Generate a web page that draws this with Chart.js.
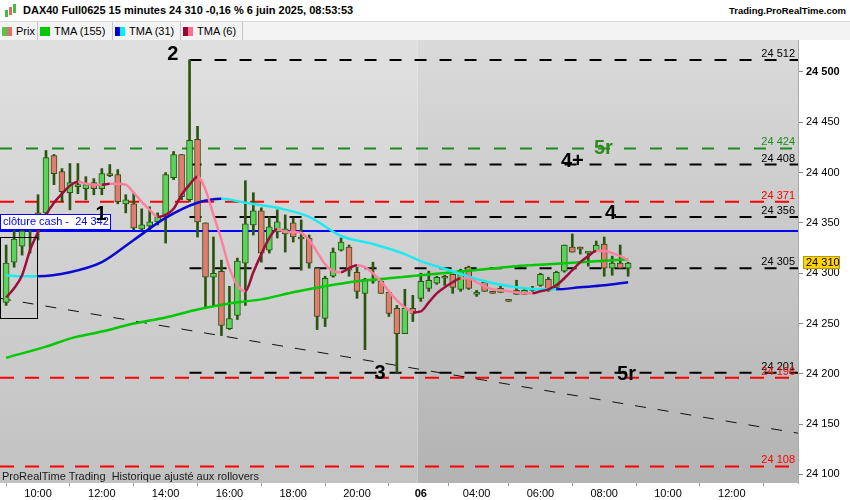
<!DOCTYPE html>
<html>
<head>
<meta charset="utf-8">
<script src="https://cdn.jsdelivr.net/npm/chart.js@4.4.1/dist/chart.umd.min.js"></script>
<style>
body { margin: 0; background: #fff; font-family: "Liberation Sans", Arial, sans-serif; }
#wrap { position: relative; width: 850px; height: 500px; overflow: hidden; }
#title { position: absolute; left: 23px; top: 4px; font-weight: bold; font-size: 11px; color: #000; }
#site { position: absolute; right: 4px; top: 5px; font-weight: bold; font-size: 9.5px; color: #000; }
#icon { position: absolute; left: 4px; top: 3px; width: 14px; height: 16px; }
#icon span { position: absolute; width: 3px; }
#legend { position: absolute; left: 0; top: 21px; width: 850px; height: 18px; background: #f3f3f3; border-top: 1px solid #d8d8d8; display: flex; }
.item { display: flex; align-items: center; border-right: 1px solid #c6c6c6; padding: 0 0 0 2px; font-size: 11px; height: 18px; box-sizing: border-box; }
.sw { width: 10px; height: 9px; margin-right: 4px; display: flex; }
.sw span { flex: 1; }
canvas { position: absolute; left: 0; top: 40px; }
#foot { position: absolute; left: 2px; top: 470px; font-size: 11px; color: #1a1a1a; }
</style>
</head>
<body>
<div id="wrap">
  <div id="icon">
    <span style="left:1px;top:7px;height:7px;background:#3fbf3f"></span>
    <span style="left:5px;top:4px;height:8px;background:#e06a60"></span>
    <span style="left:9px;top:1px;height:9px;background:#3fbf3f"></span>
  </div>
  <div id="title">DAX40 Full0625 15 minutes 24 310 -0,16 % 6 juin 2025, 08:53:53</div>
  <div id="site">Trading.ProRealTime.com</div>
  <div id="legend">
    <div class="item" style="width:38px"><div class="sw"><span style="background:#4ec94e"></span><span style="background:#e0706a"></span></div>Prix</div>
    <div class="item" style="width:75px"><div class="sw"><span style="background:#00c800"></span></div>TMA (155)</div>
    <div class="item" style="width:68px"><div class="sw"><span style="background:#0000d0"></span><span style="background:#00f0ff"></span></div>TMA (31)</div>
    <div class="item" style="width:62px"><div class="sw"><span style="background:#990033"></span><span style="background:#ff6f95"></span></div>TMA (6)</div>
  </div>
  <canvas id="chart" width="850" height="460"></canvas>
  <div id="foot">ProRealTime Trading&nbsp; Historique ajusté aux rollovers</div>
</div>
<script>
// axe du temps : une bougie de 15 minutes par index
const tickIdx = [4, 12, 20, 28, 36, 44, 52, 59, 67, 75, 83, 91];
const tickText = ['10:00', '12:00', '14:00', '16:00', '18:00', '20:00', '06', '04:00', '06:00', '08:00', '10:00', '12:00'];
const dayStartIdx = 52;

// bougies (index 0 = 5 juin 09:00, index 78 = 6 juin 08:45)
const openP  = [24271,24311,24327,24348,24360,24360,24417,24401,24380,24386,24384,24390,24384,24399,24398,24369,24369,24344,24347,24351,
                24356,24395,24418,24373,24433,24350,24296,24302,24245,24258,24310,24348,24362,24323,24341,24339,24350,24336,24335,24305,
                24255,24297,24323,24326,24301,24280,24292,24292,24281,24265,24240,24265,24275,24285,24290,24297,24299,24284,24306,24279,
                24291,24281,24281,24273,24283,24279,24283,24288,24294,24286,24302,24326,24326,24320,24322,24329,24305,24310,24305];
const highP  = [24328,24346,24345,24358,24378,24422,24418,24404,24409,24409,24396,24394,24404,24408,24403,24378,24380,24364,24366,24360,
                24400,24421,24418,24512,24446,24350,24336,24313,24287,24315,24392,24380,24365,24356,24363,24358,24355,24353,24338,24305,
                24297,24325,24335,24328,24306,24295,24311,24295,24281,24268,24284,24278,24300,24302,24297,24298,24299,24304,24307,24283,
                24293,24282,24287,24274,24293,24284,24287,24300,24296,24302,24328,24339,24326,24321,24332,24336,24317,24328,24311];
const lowP   = [24268,24306,24318,24320,24333,24358,24388,24371,24363,24379,24373,24378,24378,24396,24369,24360,24343,24343,24343,24348,
                24330,24393,24373,24371,24336,24265,24267,24238,24244,24254,24268,24338,24311,24320,24335,24321,24331,24303,24305,24244,
                24247,24296,24322,24297,24275,24224,24290,24280,24257,24201,24240,24252,24272,24282,24289,24288,24280,24282,24284,24277,
                24282,24280,24281,24272,24279,24279,24282,24287,24282,24284,24301,24321,24319,24307,24322,24297,24298,24305,24297];
const closeP = [24310,24334,24342,24357,24356,24415,24399,24381,24390,24387,24388,24384,24399,24397,24371,24373,24345,24348,24351,24356,
                24398,24418,24376,24432,24351,24296,24300,24248,24255,24312,24349,24362,24320,24346,24351,24344,24336,24334,24310,24257,
                24295,24321,24331,24303,24282,24294,24294,24280,24260,24240,24265,24260,24292,24293,24296,24295,24286,24303,24285,24281,
                24282,24280,24285,24272,24279,24283,24285,24299,24283,24301,24328,24321,24324,24321,24328,24305,24310,24305,24310];

// moyennes mobiles triangulaires
const tma155Idx = [0, 5, 8, 12, 16, 20, 24, 28, 32, 36, 40, 44, 48, 52, 56, 60, 64, 68, 72, 76, 78];
const tma155Val = [24216,24227,24235,24242,24250,24256,24264,24270,24274,24281,24287,24292,24295,24298,24301,24304,24307,24309,24311,24313,24314];
const tma31Idx = [0, 2, 4, 8, 12, 16, 20, 24, 27, 30, 34, 38, 42, 46, 50, 52, 56, 60, 64, 67, 69, 72, 75, 78];
const tma31Val = [24298,24297,24297,24301,24311,24333,24355,24370,24374,24370,24365,24356,24337,24329,24319,24312,24302,24292,24286,24284,24284,24286,24288,24291];
const tma6Val = [24276,24285,24298,24323,24341,24358,24370,24379,24387,24391,24389,24388,24388,24389,24389,24388,24380,24371,24363,24356,
                 24358,24364,24378,24388,24396,24383,24358,24333,24305,24288,24282,24301,24319,24335,24344,24341,24341,24340,24333,24321,
                 24309,24302,24301,24305,24308,24306,24300,24292,24282,24273,24266,24261,24262,24271,24280,24286,24291,24295,24295,24291,
                 24287,24284,24283,24282,24281,24280,24280,24282,24284,24288,24295,24303,24311,24317,24322,24322,24320,24317,24313];

// niveaux horizontaux
const levelPrice = [24512, 24424, 24408, 24371, 24356, 24342, 24305, 24201, 24196, 24108];
const levelKind  = ['pivot', 'target', 'pivot', 'stop', 'pivot', 'cash', 'pivot', 'pivot', 'stop', 'stop'];
const pivotFromIdx = 23;
const cashText = 'clôture cash -  24 342';

// oblique et rectangle
const trendIdx = [-0.77, 99.3];
const trendVal = [24275, 24141];
const boxIdx = [-0.77, 3.9];
const boxVal = [24336, 24255];

// repères de vagues
const markText  = ['1', '2', '3', '4', '4+', '5r', '5r'];
const markIdx   = [11.9, 20.9, 46.9, 75.8, 71.0, 74.9, 77.8];
const markPrice = [24358, 24517, 24200, 24359, 24411, 24424, 24199];
const markKind  = ['k', 'k', 'k', 'k', 'k', 'g', 'k'];

const xMin = -0.77, xMax = 99.3;
const yMin = 24091.5, yMax = 24531.8;
const FONT = '"Liberation Sans", Arial, sans-serif';

const levelStyle = {
    pivot:  { color: '#000000', text: '#000000', dash: [12, 13], width: 2 },
    target: { color: '#1f8a1f', text: '#1f8a1f', dash: [12, 14], width: 2 },
    stop:   { color: '#ff0000', text: '#ff0000', dash: [14, 11], width: 2 },
    cash:   { color: '#0000ff', text: '#0000ff', dash: [], width: 2 }
};

function fmt(v) {
    const s = String(Math.round(v));
    return s.slice(0, s.length - 3) + ' ' + s.slice(-3);
}

function noPad(s) {
    s.paddingTop = 0;
    s.paddingBottom = 0;
    s.paddingLeft = 0;
    s.paddingRight = 0;
}

Chart.defaults.font.family = FONT;

const idx = openP.map((_, i) => i);
const wickData = idx.map(i => ({ x: i, y: [lowP[i], highP[i]] }));
const bodyData = idx.map(i => ({ x: i, y: [Math.min(openP[i], closeP[i]), Math.max(openP[i], closeP[i])] }));
const isUp = i => closeP[i] >= openP[i];

function slopeColor(up, down) {
    return c => (c.p1.parsed.y > c.p0.parsed.y ? up : down);
}

const datasets = [];

levelPrice.forEach((p, k) => {
    const st = levelStyle[levelKind[k]];
    const from = levelKind[k] === 'pivot' ? pivotFromIdx : xMin;
    datasets.push({
        type: 'line', order: 20,
        data: [{ x: from, y: p }, { x: xMax, y: p }],
        borderColor: st.color, borderWidth: st.width, borderDash: st.dash,
        pointRadius: 0
    });
});

datasets.push({
    type: 'line', order: 19,
    data: trendIdx.map((v, k) => ({ x: v, y: trendVal[k] })),
    borderColor: '#111', borderWidth: 1, borderDash: [11, 12], pointRadius: 0
});

datasets.push({
    type: 'bar', order: 12, grouped: false,
    data: wickData, barThickness: 2,
    backgroundColor: '#2a5510', borderWidth: 0
});
datasets.push({
    type: 'bar', order: 11, grouped: false,
    data: bodyData, barThickness: 6, minBarLength: 2,
    backgroundColor: c => (isUp(c.dataIndex) ? '#5ad35a' : '#e57a70'),
    borderColor: '#2a5510', borderWidth: 1, borderSkipped: false
});

datasets.push({
    type: 'line', order: 3,
    data: tma155Idx.map((v, k) => ({ x: v, y: tma155Val[k] })),
    borderColor: '#00c800', borderWidth: 2.5, pointRadius: 0, cubicInterpolationMode: 'monotone'
});
datasets.push({
    type: 'line', order: 2,
    data: tma31Idx.map((v, k) => ({ x: v, y: tma31Val[k] })),
    borderColor: '#0000d0', borderWidth: 2.5, pointRadius: 0, cubicInterpolationMode: 'monotone',
    segment: { borderColor: slopeColor('#0a0ad2', '#1ee9f0') }
});
datasets.push({
    type: 'line', order: 1,
    data: tma6Val.map((v, i) => ({ x: i, y: v })),
    borderColor: '#9c0f3c', borderWidth: 2.5, pointRadius: 0, cubicInterpolationMode: 'monotone',
    segment: { borderColor: slopeColor('#9c0f3c', '#ff7f9f') }
});

const decor = {
    id: 'decor',
    beforeDraw(chart) {
        const { ctx, chartArea: a, scales: { x } } = chart;
        ctx.save();
        ctx.fillStyle = '#ffffff';
        ctx.fillRect(0, 0, chart.width, chart.height);
        const xd = x.getPixelForValue(dayStartIdx - 0.4);
        let g = ctx.createLinearGradient(0, a.top, 0, a.bottom);
        g.addColorStop(0, '#e0e0e0');
        g.addColorStop(1, '#c2c2c2');
        ctx.fillStyle = g;
        ctx.fillRect(a.left, a.top, xd - a.left, a.bottom - a.top);
        g = ctx.createLinearGradient(0, a.top, 0, a.bottom);
        g.addColorStop(0, '#dadada');
        g.addColorStop(1, '#b3b3b3');
        ctx.fillStyle = g;
        ctx.fillRect(xd, a.top, a.right - xd, a.bottom - a.top);
        ctx.restore();
    },
    afterDatasetsDraw(chart) {
        const { ctx, chartArea: a, scales: { x, y } } = chart;
        ctx.save();
        // rectangle de range
        ctx.strokeStyle = '#000';
        ctx.lineWidth = 1;
        const bx0 = x.getPixelForValue(boxIdx[0]), bx1 = x.getPixelForValue(boxIdx[1]);
        const by0 = y.getPixelForValue(boxVal[0]), by1 = y.getPixelForValue(boxVal[1]);
        ctx.strokeRect(Math.round(bx0) + 0.5, Math.round(by0) + 0.5, Math.round(bx1 - bx0), Math.round(by1 - by0));

        // étiquettes des niveaux
        ctx.font = '11px ' + FONT;
        ctx.textAlign = 'right';
        ctx.textBaseline = 'alphabetic';
        levelPrice.forEach((p, k) => {
            if (levelKind[k] === 'cash') return;
            ctx.fillStyle = levelStyle[levelKind[k]].text;
            ctx.fillText(fmt(p), a.right - 3, y.getPixelForValue(p) - 3);
        });

        // clôture cash
        const k = levelKind.indexOf('cash');
        const cy = Math.round(y.getPixelForValue(levelPrice[k]));
        ctx.fillStyle = '#ffffff';
        ctx.fillRect(0, cy - 17, 110, 15);
        ctx.strokeStyle = '#0000ff';
        ctx.strokeRect(0.5, cy - 16.5, 110, 15);
        ctx.fillStyle = '#0000ff';
        ctx.textAlign = 'left';
        ctx.textBaseline = 'middle';
        ctx.fillText(cashText, 3, cy - 9);

        // repères
        ctx.font = 'bold 20px ' + FONT;
        ctx.textAlign = 'center';
        markText.forEach((t, i) => {
            ctx.fillStyle = markKind[i] === 'g' ? '#2f8a1e' : '#000';
            ctx.fillText(t, x.getPixelForValue(markIdx[i]), y.getPixelForValue(markPrice[i]));
        });
        ctx.restore();
    },
    afterDraw(chart) {
        const { ctx, chartArea: a, scales: { y } } = chart;
        const last = closeP[closeP.length - 1];
        const py = Math.round(y.getPixelForValue(last));
        ctx.save();
        ctx.fillStyle = '#ffd400';
        ctx.fillRect(a.right + 5, py - 7, 37, 13);
        ctx.strokeStyle = '#b89a00';
        ctx.strokeRect(a.right + 5.5, py - 6.5, 36, 12);
        ctx.fillStyle = '#000';
        ctx.font = '11px ' + FONT;
        ctx.textAlign = 'left';
        ctx.textBaseline = 'middle';
        ctx.fillText(fmt(last), a.right + 8, py);
        ctx.restore();
    }
};

new Chart(document.getElementById('chart'), {
    type: 'bar',
    data: { datasets: datasets },
    options: {
        responsive: false,
        animation: false,
        layout: { padding: 0, autoPadding: false },
        plugins: { legend: { display: false }, tooltip: { enabled: false } },
        scales: {
            x: {
                type: 'linear', min: xMin, max: xMax, offset: false,
                afterFit(s) { s.height = 17; noPad(s); },
                afterBuildTicks(s) { s.ticks = tickIdx.map(v => ({ value: v })); },
                grid: { drawOnChartArea: false, tickLength: 3, color: '#999' },
                border: { display: false },
                ticks: {
                    autoSkip: false, maxRotation: 0, padding: 1, color: '#000',
                    font: c => ({ size: 11, weight: c.tick && c.tick.value === dayStartIdx ? 'bold' : 'normal' }),
                    callback: v => tickText[tickIdx.indexOf(v)]
                }
            },
            y: {
                position: 'right', min: yMin, max: yMax,
                afterFit(s) { s.width = 52; noPad(s); },
                grid: { drawOnChartArea: false, tickLength: 5, color: '#888' },
                border: { display: true, color: '#aaa' },
                ticks: {
                    stepSize: 50, includeBounds: false, padding: 3, color: '#000',
                    font: c => ({ size: 11, weight: c.tick && c.tick.value === 24500 ? 'bold' : 'normal' }),
                    callback: v => fmt(v)
                }
            }
        }
    },
    plugins: [decor]
});
</script>
</body>
</html>
